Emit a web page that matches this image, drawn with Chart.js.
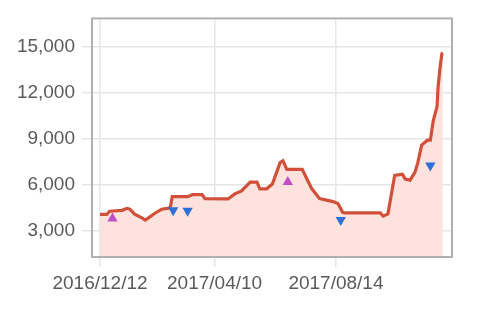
<!DOCTYPE html>
<html>
<head>
<meta charset="utf-8">
<script src="https://cdn.jsdelivr.net/npm/chart.js@4/dist/chart.umd.min.js"></script>
<style>
html,body{margin:0;padding:0;background:#fff;}
#wrap{width:500px;height:309px;position:relative;}
</style>
</head>
<body>
<div id="wrap"><canvas id="c" width="500" height="309"></canvas></div>
<script>
// x values are days since 2016/12/12
const priceDays = [0,7,10,23,28,31,36,44,47,50,57,64,70,73,75,91,96,106,109,133,140,147,156,163,166,173,179,187,190,194,210,215,220,228,242,247,252,254,291,294,299,306,314,317,322,327,330,334,340,343,346,350,351,353,355,356];
const priceValues = [4060,4060,4270,4330,4460,4400,4080,3820,3700,3820,4140,4400,4460,4500,5220,5220,5350,5350,5090,5070,5400,5600,6170,6170,5730,5730,6040,7440,7560,7000,7000,6360,5730,5090,4900,4780,4200,4160,4160,3950,4100,6610,6680,6360,6300,6800,7440,8580,8900,8900,10160,11110,12320,13590,14540,14600];

const upDays = [13,195];
const upValues = [3800,6170];
const downDays = [76,91,250,343];
const downValues = [4330,4300,3700,7250];

const xTickDays = [0,119,245];
const xTickLabels = ["2016/12/12","2017/04/10","2017/08/14"];
const yTickValues = [3000,6000,9000,12000,15000];

const pts = (xs, ys) => xs.map((x,i)=>({x:x,y:ys[i]}));

const frame = {
  id:'frame',
  afterDraw(chart){
    const a = chart.chartArea, ctx = chart.ctx;
    ctx.save();
    ctx.strokeStyle = '#b0b0b0';
    ctx.lineWidth = 2;
    ctx.strokeRect(a.left, a.top, a.right-a.left, a.bottom-a.top);
    ctx.restore();
  }
};

const tickFont = {family:'Liberation Sans, Arial, sans-serif', size:19};

new Chart(document.getElementById('c'), {
  type:'line',
  data:{
    datasets:[
      {
        data: pts(upDays, upValues),
        showLine:false,
        pointStyle:'triangle',
        pointRadius:6,
        pointBackgroundColor:'#bf4fc6',
        pointBorderWidth:0,
        order:0
      },
      {
        data: pts(downDays, downValues),
        showLine:false,
        pointStyle:'triangle',
        rotation:180,
        pointRadius:6,
        pointBackgroundColor:'#2f71d4',
        pointBorderWidth:0,
        order:0
      },
      {
        data: pts(priceDays, priceValues),
        borderColor:'#d2503a',
        borderWidth:3.2,
        backgroundColor:'#fde2de',
        fill:'start',
        pointRadius:0,
        tension:0,
        order:1
      }
    ]
  },
  options:{
    responsive:false,
    animation:false,
    layout:{padding:{top:12,right:48,left:0,bottom:0}},
    plugins:{legend:{display:false},tooltip:{enabled:false}},
    scales:{
      x:{
        type:'linear',
        min:-8.3, max:365.5,
        afterBuildTicks(s){ s.ticks = xTickDays.map(v=>({value:v})); },
        afterFit(s){ s.height = 52; },
        ticks:{
          autoSkip:false, maxRotation:0,
          callback:(v)=>{ const i = xTickDays.indexOf(v); return i>=0 ? xTickLabels[i] : ''; },
          font:tickFont,
          color:'#5a5a5a', padding:5
        },
        grid:{color:'#e6e6e6', lineWidth:1.5, tickLength:10, drawTicks:true},
        border:{display:false}
      },
      y:{
        min:1288, max:16839,
        afterBuildTicks(s){ s.ticks = yTickValues.map(v=>({value:v})); },
        afterFit(s){ s.width = 92; },
        ticks:{
          callback:(v)=>v.toLocaleString('en-US'),
          font:tickFont,
          color:'#5a5a5a', padding:7
        },
        grid:{color:'#e6e6e6', lineWidth:1.5, tickLength:10, drawTicks:true},
        border:{display:false}
      }
    }
  },
  plugins:[frame]
});
</script>
</body>
</html>
